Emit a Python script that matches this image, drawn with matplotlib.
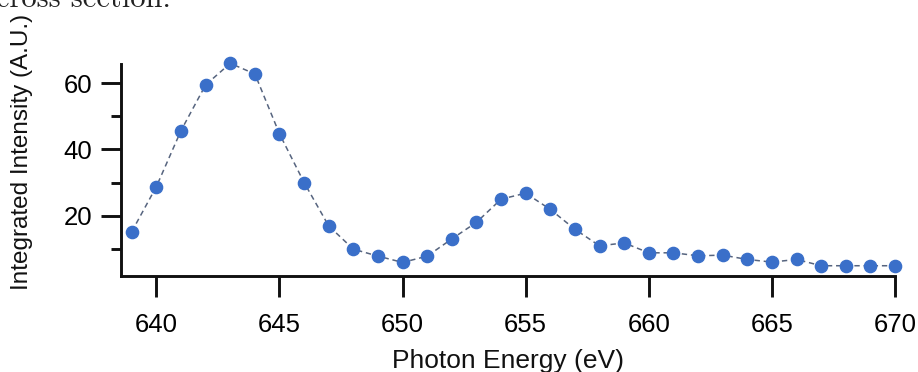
import matplotlib
matplotlib.use("Agg")
import matplotlib.pyplot as plt
from matplotlib.ticker import MultipleLocator

# Integrated intensity versus photon energy
energy_ev = [639, 640, 641, 642, 643, 644, 645, 646, 647, 648, 649, 650,
             651, 652, 653, 654, 655, 656, 657, 658, 659, 660, 661, 662,
             663, 664, 665, 666, 667, 668, 669, 670]
intensity = [15.2, 28.8, 45.7, 59.5, 66.0, 62.8, 44.7, 30.0, 16.9, 9.9, 7.8, 5.9,
             7.8, 13.0, 18.0, 25.0, 26.8, 21.9, 15.9, 10.9, 11.8, 8.8, 8.8, 7.9,
             8.1, 6.8, 6.0, 6.8, 4.9, 4.9, 4.9, 4.9]
x_ticks = [640, 645, 650, 655, 660, 665, 670]
y_ticks = [20, 40, 60]

plt.rcParams["font.family"] = ["Liberation Sans", "DejaVu Sans"]

fig = plt.figure(figsize=(9.18, 3.72), dpi=100)
ax = fig.add_axes([120.7 / 918, 1 - 276 / 372, (895 - 120.7) / 918, (276 - 64) / 372])

ax.plot(energy_ev, intensity, linestyle=(0, (3.5, 2.5)), color="#56647f", linewidth=1.1,
        marker="o", markersize=8.8, markerfacecolor="#3a6fc9", markeredgecolor="#3a6fc9",
        clip_on=False, zorder=3)

ax.set_xlim(638.55, 670)
ax.set_ylim(1.8, 65.8)
ax.set_xticks(x_ticks)
ax.set_yticks(y_ticks)
ax.yaxis.set_minor_locator(MultipleLocator(10))

for side in ("top", "right"):
    ax.spines[side].set_visible(False)
for side in ("left", "bottom"):
    ax.spines[side].set_linewidth(2.1)
    ax.spines[side].set_color("#111111")

ax.tick_params(axis="x", which="major", direction="out", length=15, width=2.1,
               pad=12, labelsize=18.5, color="#111111")
ax.tick_params(axis="y", which="major", direction="out", length=14.4, width=2.1,
               pad=6, labelsize=18.5, color="#111111")
ax.tick_params(axis="y", which="minor", direction="out", length=7.2, width=2.1,
               color="#111111")

ax.set_xlabel("Photon Energy (eV)", fontsize=19, labelpad=8, color="#111111")
fig.text(22 / 918, 1 - 152 / 372, "Integrated Intensity (A.U.)", rotation=90,
         ha="center", va="center", fontsize=17.5, color="#111111")

# Caption line from the text above the figure, running off the top edge
fig.text(-4 / 918, 1 - 7 / 372, "cross section.", ha="left", va="baseline",
         fontsize=22, family=["cmr10", "DejaVu Serif"], color="#222222")

fig.savefig("out.png", dpi=100)
